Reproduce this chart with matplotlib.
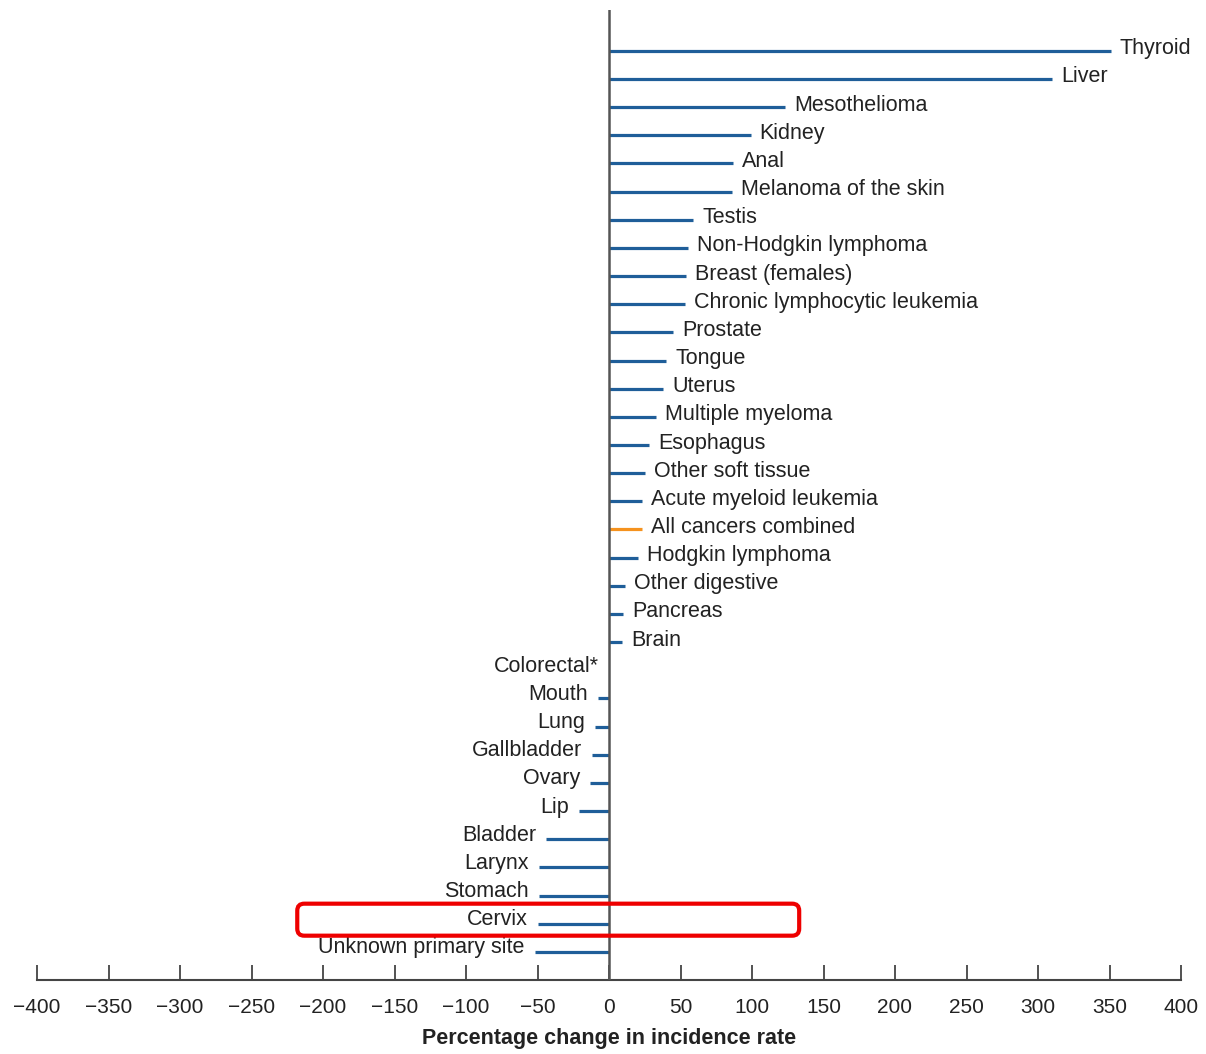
import matplotlib
matplotlib.use("Agg")
import matplotlib.pyplot as plt
from matplotlib.patches import FancyBboxPatch
from matplotlib.transforms import offset_copy, IdentityTransform

plt.rcParams['font.family'] = ['Liberation Sans', 'DejaVu Sans']

sites = ["Thyroid", "Liver", "Mesothelioma", "Kidney", "Anal",
         "Melanoma of the skin", "Testis", "Non-Hodgkin lymphoma",
         "Breast (females)", "Chronic lymphocytic leukemia", "Prostate",
         "Tongue", "Uterus", "Multiple myeloma", "Esophagus",
         "Other soft tissue", "Acute myeloid leukemia", "All cancers combined",
         "Hodgkin lymphoma", "Other digestive", "Pancreas", "Brain",
         "Colorectal*", "Mouth", "Lung", "Gallbladder", "Ovary", "Lip",
         "Bladder", "Larynx", "Stomach", "Cervix", "Unknown primary site"]
changes = [351, 310, 123, 99, 87, 86, 59, 55, 54, 53, 45, 40, 38, 33, 28,
           25, 23, 23, 20, 11, 10, 9, 0, -8, -10, -12, -13, -21, -44, -49,
           -49, -50, -52]
highlight = "All cancers combined"
boxed = "Cervix"
xticks = list(range(-400, 401, 50))
xlabel = "Percentage change in incidence rate"

BLUE = "#1f5e99"
ORANGE = "#f5921e"

fig = plt.figure(figsize=(12.06, 10.54), dpi=100)
ax = fig.add_axes([37/1206, 1 - 980/1054, (1181-37)/1206, (980-10)/1054])

n = len(sites)
ypos = list(range(n))
for y, s, v in zip(ypos, sites, changes):
    col = ORANGE if s == highlight else BLUE
    ax.plot([0, v], [y, y], color=col, lw=2.3, solid_capstyle='butt', zorder=2)
    if v > 0:
        tr = offset_copy(ax.transData, fig=fig, x=9, y=2, units='dots')
        ax.text(v, y, s, transform=tr, ha='left', va='center',
                fontsize=15.5, color='#222222')
    else:
        tr = offset_copy(ax.transData, fig=fig, x=-10, y=4, units='dots')
        ax.text(v, y, s, transform=tr, ha='right', va='center',
                fontsize=15.5, color='#222222')

ax.axvline(0, color='#555555', lw=1.8, zorder=3)

ax.set_xlim(-400, 400)
ax.set_ylim(n - 1 + 1.0, -1.45)
ax.set_xticks(xticks)
ax.set_xticklabels([("\u2212" + str(abs(t))) if t < 0 else str(t) for t in xticks],
                   fontsize=15, color='#222222')
ax.set_yticks([])
for sp in ['top', 'right', 'left']:
    ax.spines[sp].set_visible(False)
ax.spines['bottom'].set_color('#444444')
ax.spines['bottom'].set_linewidth(1.5)
ax.tick_params(axis='x', direction='in', length=11, width=1.3, color='#444444', pad=13)
ax.set_xlabel(xlabel, fontsize=15.5, fontweight='bold', labelpad=8, color='#222222')

# Red highlight box around the boxed row (positioned from data coords)
yb = sites.index(boxed)
(x0, yc), = ax.transData.transform([(-218, yb)])
(x1, _), = ax.transData.transform([(133, yb)])
yc += 4
h = 32
box = FancyBboxPatch((x0, yc - h / 2), x1 - x0, h,
                     boxstyle="round,pad=0,rounding_size=7",
                     transform=IdentityTransform(), fill=False,
                     edgecolor='#ee0000', lw=3, zorder=5)
fig.add_artist(box)

fig.savefig("out.png", dpi=100)
